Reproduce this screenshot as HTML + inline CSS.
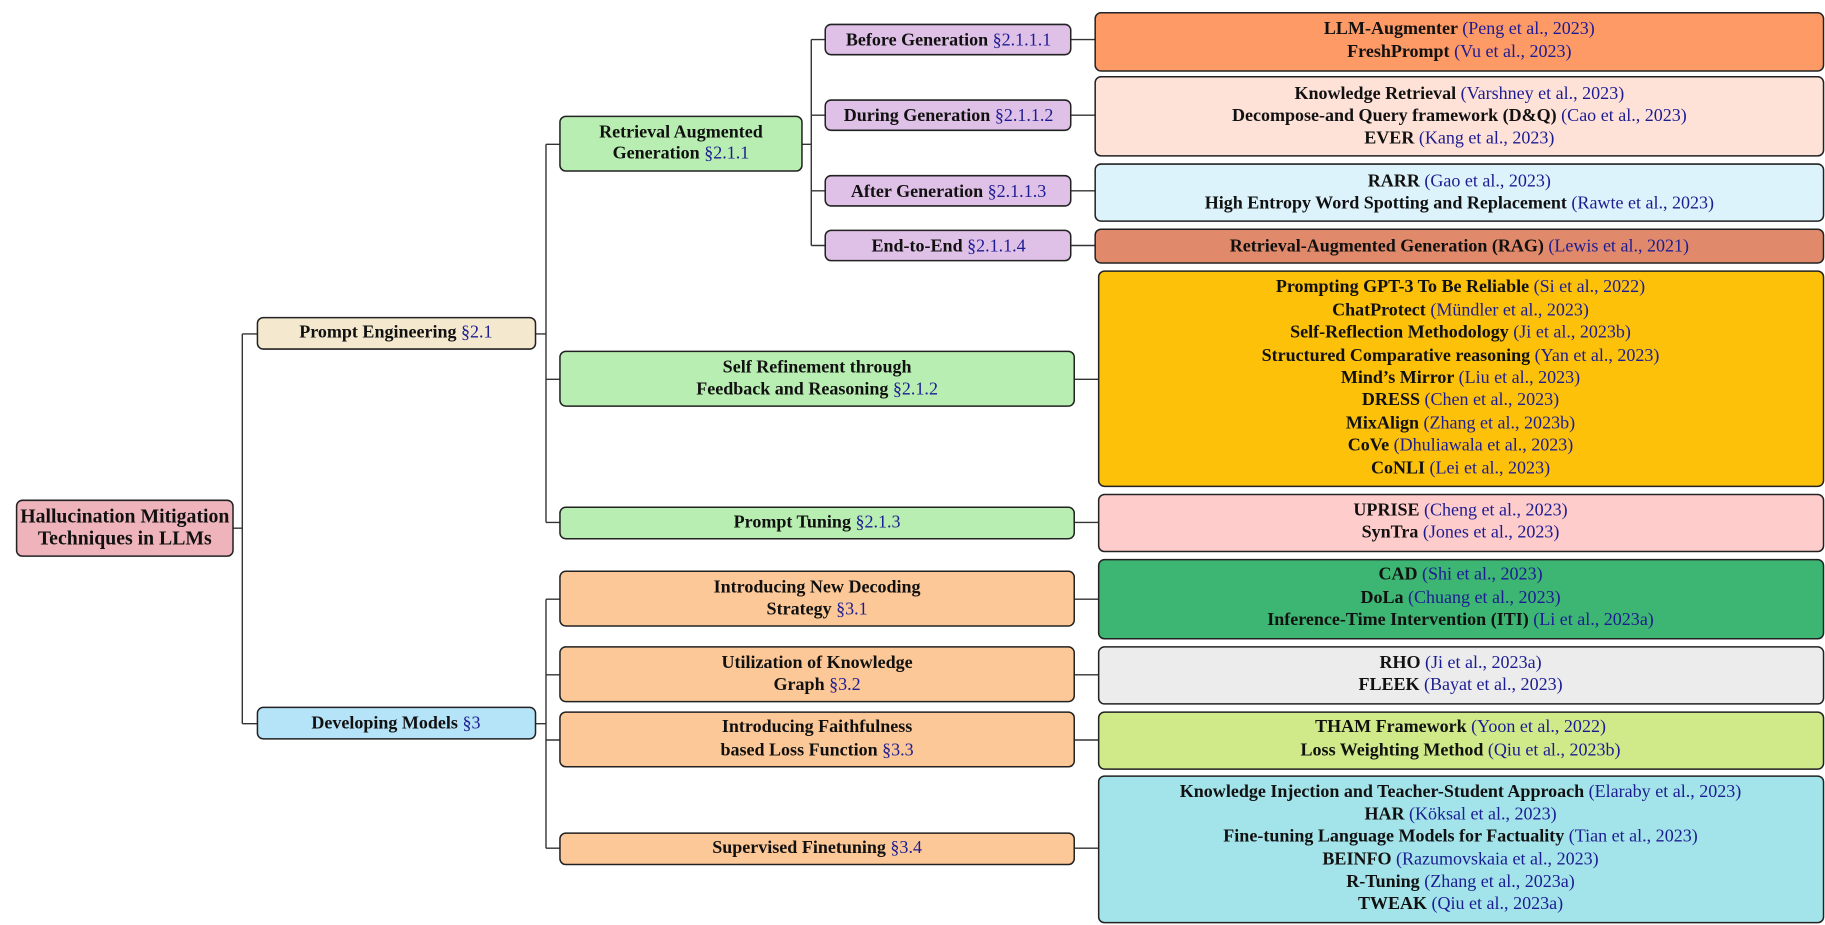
<!DOCTYPE html>
<html><head><meta charset="utf-8"><style>
html,body{margin:0;padding:0;background:#fff;}
svg{display:block}
text{font-family:"Liberation Serif",serif;font-size:15.5px;fill:#111;dominant-baseline:central;text-anchor:middle}
.b{font-weight:bold}
.c{fill:#1c1c92;font-weight:normal}
.r{stroke:#222;stroke-width:1.3}
</style></head><body>
<svg width="1825" height="925" viewBox="0 0 1568 795" xmlns="http://www.w3.org/2000/svg">
<g fill="none" stroke="#333" stroke-width="1.2">
<path d="M200 454H208M208 287V622M208 287H221M208 622H221"/>
<path d="M460 287H469M469 124V449M469 124H481M469 326H481M469 449H481"/>
<path d="M460 622H469M469 515V729M469 515H481M469 580H481M469 636H481M469 729H481"/>
<path d="M689 124H697M697 34V211M697 34H709M697 99H709M697 164H709M697 211H709"/>
<path d="M920 34H941M920 99H941M920 164H941M920 211H941"/>
<path d="M923 326H944M923 449H944M923 515H944M923 580H944M923 636H944M923 729H944"/>
</g>
<g class="r">
<rect x="14" y="430" width="186" height="48" rx="5" fill="#efb4bb"/>
<rect x="221" y="273" width="239" height="27" rx="5" fill="#f4e9cf"/>
<rect x="221" y="608" width="239" height="27" rx="5" fill="#b5e3f7"/>
<rect x="481" y="100" width="208" height="47" rx="5" fill="#b8eeb1"/>
<rect x="481" y="302" width="442" height="47" rx="5" fill="#b8eeb1"/>
<rect x="481" y="436" width="442" height="27" rx="5" fill="#b8eeb1"/>
<rect x="481" y="491" width="442" height="47" rx="5" fill="#fdc897"/>
<rect x="481" y="556" width="442" height="47" rx="5" fill="#fdc897"/>
<rect x="481" y="612" width="442" height="47" rx="5" fill="#fdc897"/>
<rect x="481" y="716" width="442" height="27" rx="5" fill="#fdc897"/>
<rect x="709" y="21" width="211" height="26" rx="5" fill="#dfc0e6"/>
<rect x="709" y="86" width="211" height="26" rx="5" fill="#dfc0e6"/>
<rect x="709" y="151" width="211" height="26" rx="5" fill="#dfc0e6"/>
<rect x="709" y="198" width="211" height="26" rx="5" fill="#dfc0e6"/>
<rect x="941" y="11" width="626" height="50" rx="5" fill="#fd9a66"/>
<rect x="941" y="66" width="626" height="68" rx="5" fill="#fee2d8"/>
<rect x="941" y="141" width="626" height="49" rx="5" fill="#ddf3fb"/>
<rect x="941" y="197" width="626" height="29" rx="5" fill="#e08a6b"/>
<rect x="944" y="233" width="623" height="185" rx="5" fill="#fdc10a"/>
<rect x="944" y="425" width="623" height="49" rx="5" fill="#fecccb"/>
<rect x="944" y="481" width="623" height="68" rx="5" fill="#3db573"/>
<rect x="944" y="556" width="623" height="49" rx="5" fill="#ececec"/>
<rect x="944" y="612" width="623" height="49" rx="5" fill="#d0ea8a"/>
<rect x="944" y="667" width="623" height="126" rx="5" fill="#a3e4ea"/>
</g>
<text x="107" y="444" class="b" style="font-size:17px">Hallucination Mitigation</text>
<text x="107" y="463" class="b" style="font-size:17px">Techniques in LLMs</text>
<text x="340" y="285" class="b">Prompt Engineering <tspan class="c">§2.1</tspan></text>
<text x="340" y="621" class="b">Developing Models <tspan class="c">§3</tspan></text>
<text x="585" y="113" class="b">Retrieval Augmented</text>
<text x="585" y="131" class="b">Generation <tspan class="c">§2.1.1</tspan></text>
<text x="702" y="315" class="b">Self Refinement through</text>
<text x="702" y="334" class="b">Feedback and Reasoning <tspan class="c">§2.1.2</tspan></text>
<text x="702" y="448" class="b">Prompt Tuning <tspan class="c">§2.1.3</tspan></text>
<text x="702" y="504" class="b">Introducing New Decoding</text>
<text x="702" y="523" class="b">Strategy <tspan class="c">§3.1</tspan></text>
<text x="702" y="569" class="b">Utilization of Knowledge</text>
<text x="702" y="588" class="b">Graph <tspan class="c">§3.2</tspan></text>
<text x="702" y="624" class="b">Introducing Faithfulness</text>
<text x="702" y="644" class="b">based Loss Function <tspan class="c">§3.3</tspan></text>
<text x="702" y="728" class="b">Supervised Finetuning <tspan class="c">§3.4</tspan></text>
<text x="815" y="34" class="b">Before Generation <tspan class="c">§2.1.1.1</tspan></text>
<text x="815" y="99" class="b">During Generation <tspan class="c">§2.1.1.2</tspan></text>
<text x="815" y="164" class="b">After Generation <tspan class="c">§2.1.1.3</tspan></text>
<text x="815" y="211" class="b">End-to-End <tspan class="c">§2.1.1.4</tspan></text>
<text x="1254" y="24" class="b">LLM-Augmenter <tspan class="c">(Peng et al., 2023)</tspan></text>
<text x="1254" y="44" class="b">FreshPrompt <tspan class="c">(Vu et al., 2023)</tspan></text>
<text x="1254" y="80" class="b">Knowledge Retrieval <tspan class="c">(Varshney et al., 2023)</tspan></text>
<text x="1254" y="99" class="b">Decompose-and Query framework (D&amp;Q) <tspan class="c">(Cao et al., 2023)</tspan></text>
<text x="1254" y="118" class="b">EVER <tspan class="c">(Kang et al., 2023)</tspan></text>
<text x="1254" y="155" class="b">RARR <tspan class="c">(Gao et al., 2023)</tspan></text>
<text x="1254" y="174" class="b">High Entropy Word Spotting and Replacement <tspan class="c">(Rawte et al., 2023)</tspan></text>
<text x="1254" y="211" class="b">Retrieval-Augmented Generation (RAG) <tspan class="c">(Lewis et al., 2021)</tspan></text>
<text x="1255" y="246" class="b">Prompting GPT-3 To Be Reliable <tspan class="c">(Si et al., 2022)</tspan></text>
<text x="1255" y="266" class="b">ChatProtect <tspan class="c">(Mündler et al., 2023)</tspan></text>
<text x="1255" y="285" class="b">Self-Reflection Methodology <tspan class="c">(Ji et al., 2023b)</tspan></text>
<text x="1255" y="305" class="b">Structured Comparative reasoning <tspan class="c">(Yan et al., 2023)</tspan></text>
<text x="1255" y="324" class="b">Mind’s Mirror <tspan class="c">(Liu et al., 2023)</tspan></text>
<text x="1255" y="343" class="b">DRESS <tspan class="c">(Chen et al., 2023)</tspan></text>
<text x="1255" y="363" class="b">MixAlign <tspan class="c">(Zhang et al., 2023b)</tspan></text>
<text x="1255" y="382" class="b">CoVe <tspan class="c">(Dhuliawala et al., 2023)</tspan></text>
<text x="1255" y="402" class="b">CoNLI <tspan class="c">(Lei et al., 2023)</tspan></text>
<text x="1255" y="438" class="b">UPRISE <tspan class="c">(Cheng et al., 2023)</tspan></text>
<text x="1255" y="457" class="b">SynTra <tspan class="c">(Jones et al., 2023)</tspan></text>
<text x="1255" y="493" class="b">CAD <tspan class="c">(Shi et al., 2023)</tspan></text>
<text x="1255" y="513" class="b">DoLa <tspan class="c">(Chuang et al., 2023)</tspan></text>
<text x="1255" y="532" class="b">Inference-Time Intervention (ITI) <tspan class="c">(Li et al., 2023a)</tspan></text>
<text x="1255" y="569" class="b">RHO <tspan class="c">(Ji et al., 2023a)</tspan></text>
<text x="1255" y="588" class="b">FLEEK <tspan class="c">(Bayat et al., 2023)</tspan></text>
<text x="1255" y="624" class="b">THAM Framework <tspan class="c">(Yoon et al., 2022)</tspan></text>
<text x="1255" y="644" class="b">Loss Weighting Method <tspan class="c">(Qiu et al., 2023b)</tspan></text>
<text x="1255" y="680" class="b">Knowledge Injection and Teacher-Student Approach <tspan class="c">(Elaraby et al., 2023)</tspan></text>
<text x="1255" y="699" class="b">HAR <tspan class="c">(Köksal et al., 2023)</tspan></text>
<text x="1255" y="718" class="b">Fine-tuning Language Models for Factuality <tspan class="c">(Tian et al., 2023)</tspan></text>
<text x="1255" y="738" class="b">BEINFO <tspan class="c">(Razumovskaia et al., 2023)</tspan></text>
<text x="1255" y="757" class="b">R-Tuning <tspan class="c">(Zhang et al., 2023a)</tspan></text>
<text x="1255" y="776" class="b">TWEAK <tspan class="c">(Qiu et al., 2023a)</tspan></text>
</svg>
</body></html>
